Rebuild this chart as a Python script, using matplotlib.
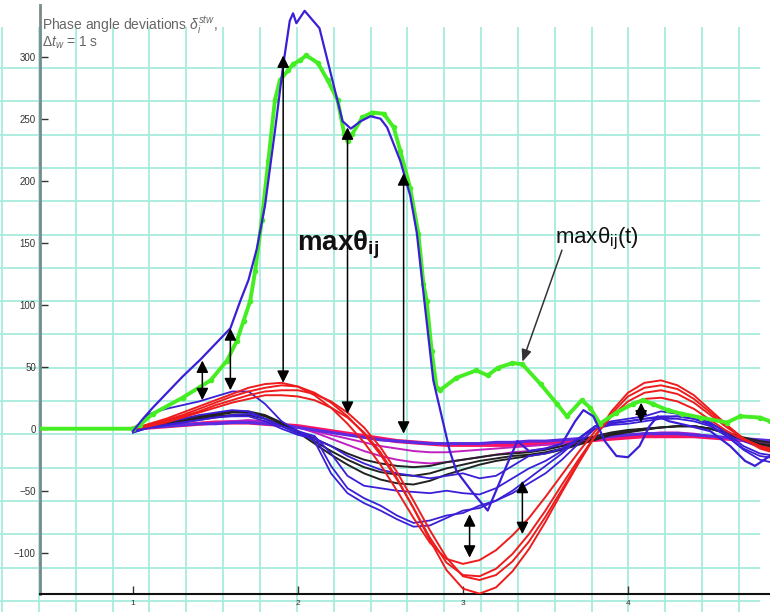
"""Phase angle deviations - max theta_ij plot"""

import numpy as np
import matplotlib
matplotlib.use("Agg")
import matplotlib.pyplot as plt

plt.rcParams["font.family"] = ["Liberation Sans", "DejaVu Sans"]
plt.rcParams["mathtext.fontset"] = "custom"
plt.rcParams["mathtext.rm"] = "Liberation Sans"
plt.rcParams["mathtext.it"] = "Liberation Sans:italic"
plt.rcParams["mathtext.bf"] = "Liberation Sans:bold"

# time samples for the generator bundles (s)
t = np.arange(1.0, 4.95, 0.1)

# red generators (large swing)
red_1 = [0, 4, 8, 13, 18, 23, 28, 33, 36, 37, 34, 27, 17, 4, -11, -29, -50, -72, -92, -105,
         -109, -106, -98, -86, -72, -55, -37, -19, -2, 10, 19, 24, 25, 22, 16, 7, -2, -9, -14, -17]
red_2 = [0, 3, 7, 11, 16, 21, 26, 30, 33, 35, 34, 29, 21, 10, -4, -21, -41, -64, -88, -108,
         -118, -119, -113, -101, -85, -66, -45, -25, -6, 10, 22, 29, 31, 28, 21, 11, 1, -8, -14, -18]
red_3 = [0, 3, 6, 10, 14, 19, 23, 27, 30, 31, 31, 28, 22, 13, 1, -15, -35, -58, -82, -104,
         -119, -122, -118, -107, -91, -71, -49, -27, -6, 12, 26, 33, 35, 32, 24, 13, 2, -8, -15, -19]
red_4 = [0, 2, 5, 9, 13, 17, 21, 24, 27, 27, 26, 23, 17, 9, -3, -19, -40, -64, -90, -114,
         -129, -133, -128, -115, -97, -75, -51, -28, -6, 14, 29, 37, 39, 35, 27, 15, 3, -8, -16, -20]

# black generators
black_1 = [0, 2, 4, 6, 8, 10, 11, 11, 8, 3, -2, -8, -14, -20, -25, -28, -30, -31, -30, -27,
           -25, -23, -21, -20, -19, -17, -14, -10, -6, -3, -1, 0, 1, 2, 2, 0, -3, -7, -10, -12]
black_2 = [0, 2, 5, 7, 9, 11, 13, 13, 10, 4, -2, -10, -18, -25, -31, -35, -37, -38, -36, -32,
           -29, -26, -24, -22, -21, -19, -16, -12, -8, -4, -2, 0, 1, 2, 2, 0, -4, -8, -12, -14]
black_3 = [0, 3, 5, 8, 10, 12, 14, 14, 11, 5, -3, -12, -21, -29, -36, -41, -44, -45, -42, -37,
           -33, -29, -26, -24, -22, -20, -17, -13, -9, -5, -3, -1, 1, 2, 2, 0, -4, -9, -13, -15]

# flat bundle (pink / magenta / violet)
pink_1 = [0, 1, 2, 3, 4, 5, 5, 5, 4, 3, 2, 0, -2, -4, -6, -8, -10, -11, -12, -13,
          -13, -13, -13, -13, -12, -12, -11, -10, -9, -8, -7, -6, -6, -6, -6, -7, -8, -9, -10, -11]
mag_1 = [0, 1, 2, 3, 4, 5, 6, 6, 5, 3, 1, -2, -5, -8, -11, -14, -16, -18, -19, -19,
         -18, -17, -16, -15, -14, -13, -12, -10, -8, -6, -5, -4, -4, -4, -5, -6, -8, -10, -11, -12]
mag_2 = [0, 1, 2, 3, 4, 5, 6, 7, 6, 4, 1, -3, -8, -13, -18, -22, -25, -27, -28, -27,
         -25, -23, -21, -19, -18, -16, -14, -12, -9, -7, -5, -4, -3, -3, -4, -6, -8, -10, -12, -13]
violet_1 = [0, 1, 2, 3, 4, 4, 5, 5, 4, 3, 1, -1, -3, -5, -7, -9, -10, -11, -12, -12,
            -12, -12, -11, -11, -10, -10, -9, -8, -7, -6, -5, -4, -4, -4, -5, -6, -7, -8, -9, -10]

# blue generators
blue_1 = [-3, 12, 16, 19, 22, 26, 30, 30, 20, 6, -2, -10, -36, -52, -60, -66, -73, -79, -78, -72,
          -66, -64, -58, -52, -44, -36, -25, -12, 0, 3, 4, 6, 8, 8, 6, 2, -6, -16, -22, -24]
blue_2 = [-3, 2, 5, 8, 11, 13, 15, 14, 8, 2, -2, -6, -30, -48, -56, -62, -70, -76, -74, -70,
          -68, -62, -58, -50, -40, -30, -20, -8, 2, 5, 6, 8, 10, 10, 8, 3, -6, -17, -25, -28]
blue_3 = [-3, 1, 3, 5, 7, 9, 11, 12, 8, 2, -4, -6, -20, -38, -46, -48, -50, -51, -52, -50,
          -52, -53, -48, -40, -32, -26, -18, -8, 2, 6, 8, 10, 14, 12, 10, 5, -4, -14, -20, -22]
blue_4 = [-3, 1, 3, 5, 7, 9, 10, 10, 6, 0, -5, -8, -14, -22, -28, -33, -36, -38, -40, -38,
          -36, -40, -38, -30, -22, -20, -16, -8, 0, 4, 6, 8, 9, 10, 8, 4, -2, -10, -15, -17]

# blue upper envelope (generator with the largest angle)
blue_top_t = [1.0, 1.06, 1.12, 1.3, 1.41, 1.59, 1.65, 1.7, 1.75, 1.8, 1.86, 1.91, 1.95, 1.97, 1.99,
              2.04, 2.13, 2.19, 2.27, 2.32, 2.38, 2.44, 2.5, 2.54, 2.62, 2.68, 2.72, 2.77, 2.82,
              2.92, 2.96, 3.05, 3.15, 3.27, 3.33, 3.4, 3.5, 3.6, 3.68, 3.73, 3.79, 3.86, 3.93,
              4.0, 4.07, 4.13, 4.18, 4.25, 4.38, 4.5, 4.62, 4.71, 4.77, 4.86]
blue_top_v = [-2, 8, 17, 42, 56, 81, 103, 120, 145, 180, 240, 293, 329, 335, 327,
              337, 323, 291, 248, 242, 248, 252, 250, 243, 216, 188, 158, 98, 39,
              -18, -34, -50, -66, -28, -10, -18, -16, -12, 6, 15, 10, -10, -22,
              -23, -14, 2, 10, 6, 2, -2, -14, -26, -30, -22]

# green curve: max theta_ij(t)
green_t = [0.42, 1.0, 1.04, 1.12, 1.3, 1.47, 1.57, 1.63, 1.67, 1.71, 1.74, 1.78, 1.82, 1.86, 1.89,
           1.94, 1.97, 2.01, 2.05, 2.12, 2.18, 2.24, 2.28, 2.3, 2.33, 2.39, 2.45, 2.52, 2.58,
           2.62, 2.68, 2.73, 2.76, 2.78, 2.81, 2.84, 2.86, 2.96, 3.08, 3.15, 3.21, 3.3, 3.36,
           3.47, 3.57, 3.63, 3.72, 3.77, 3.83, 3.93, 4.03, 4.09, 4.15, 4.24, 4.33, 4.44, 4.6,
           4.68, 4.8, 4.86]
green_v = [0, 0, 3, 12, 25, 39, 55, 71, 87, 103, 127, 168, 216, 265, 281,
           289, 294, 297, 301, 295, 281, 265, 238, 232, 238, 251, 255, 254, 243,
           224, 194, 157, 117, 103, 63, 33, 31, 41, 47, 43, 49, 53, 52,
           36, 20, 10, 23, 17, 4, 13, 20, 23, 20, 15, 12, 9, 5,
           10, 9, 6]

# double arrows (time, upper end, lower end)
arrow_t = [1.42, 1.59, 1.91, 2.30, 2.64, 3.04, 3.36, 4.08]
arrow_top = [55, 81, 301, 243, 206, -69, -42, 21]
arrow_bot = [23, 31, 37, 12, -4, -104, -85, 5]

RED = "#ee1c1c"
BLACK = "#222222"
MAGENTA = "#c020c0"
PINK = "#ff1464"
VIOLET = "#5a2be0"
BLUE = "#3a1fd6"
GREEN = "#44ee22"
GRID = "#a6ecdc"

fig = plt.figure(figsize=(7.7, 6.12), dpi=100)

# graph paper background (pixel coordinates)
bg = fig.add_axes([0, 0, 1, 1], zorder=0)
bg.set_xlim(0, 770)
bg.set_ylim(612, 0)
bg.axis("off")
bg.vlines(np.arange(2, 771, 36.85), 27, 612, color=GRID, lw=1.3)
bg.hlines(np.arange(68, 605, 33.3), 0, 760, color=GRID, lw=1.3)

ax = fig.add_axes([40 / 770, 18 / 612, 730 / 770, 589 / 612], zorder=1)
ax.patch.set_alpha(0)
ax.set_xlim(0.436, 4.861)
ax.set_ylim(-133.3, 341.7)

for s in ("top", "right"):
    ax.spines[s].set_visible(False)
ax.spines["left"].set_color("#7a8a8a")
ax.spines["left"].set_linewidth(2)
ax.spines["bottom"].set_color("#111111")
ax.spines["bottom"].set_linewidth(1.5)

ax.set_xticks([1, 2, 3, 4])
ax.set_yticks([-100, -50, 0, 50, 100, 150, 200, 250, 300])
ax.tick_params(axis="both", direction="in", length=6, width=1, colors="#333333",
               labelsize=7, pad=3)
ax.tick_params(axis="x", labelsize=6, pad=4)

# flat bundle
ax.plot(t, pink_1, color=PINK, lw=3, zorder=2)
ax.plot(t, mag_1, color=MAGENTA, lw=1.4, zorder=2)
ax.plot(t, mag_2, color=MAGENTA, lw=1.4, zorder=2)
ax.plot(t, violet_1, color=VIOLET, lw=2.2, zorder=2)

for y in (black_1, black_2, black_3):
    ax.plot(t, y, color=BLACK, lw=1.4, zorder=3)

for y in (blue_1, blue_2, blue_3, blue_4):
    ax.plot(t, y, color=BLUE, lw=1.3, zorder=3)

for y in (red_1, red_2, red_3, red_4):
    ax.plot(t, y, color=RED, lw=1.4, zorder=4)

ax.plot(green_t, green_v, color=GREEN, lw=2.8, marker="o", ms=3, zorder=5)
ax.plot(blue_top_t, blue_top_v, color=BLUE, lw=1.6, zorder=5)

for xa, top, bot in zip(arrow_t, arrow_top, arrow_bot):
    ax.annotate("", xy=(xa, bot), xytext=(xa, top),
                arrowprops=dict(arrowstyle="<|-|>,head_length=0.6,head_width=0.3",
                                color="black", lw=1.1, mutation_scale=12,
                                shrinkA=0, shrinkB=0), zorder=6)

# labels
ax.text(2.24, 148, r"$\mathbf{max\theta_{ij}}$", fontsize=20, ha="center", va="center",
        color="#111111", zorder=7)
ax.text(3.56, 153, r"max$\mathrm{\theta_{ij}}$(t)", fontsize=16, ha="left", va="center",
        color="#111111", zorder=7)
ax.annotate("", xy=(3.36, 54), xytext=(3.6, 144),
            arrowprops=dict(arrowstyle="-|>,head_length=0.6,head_width=0.25",
                            color="#333333", lw=1.1, mutation_scale=12,
                            shrinkA=0, shrinkB=0), zorder=6)

fig.text(42 / 770, 1 - 25 / 612, r"Phase angle deviations $\delta_i^{stw}$,",
         fontsize=10, color="#666666", va="center", ha="left")
fig.text(42 / 770, 1 - 43 / 612, r"$\Delta t_w$ = 1 s",
         fontsize=10, color="#666666", va="center", ha="left")

fig.savefig("out.png", dpi=100)
